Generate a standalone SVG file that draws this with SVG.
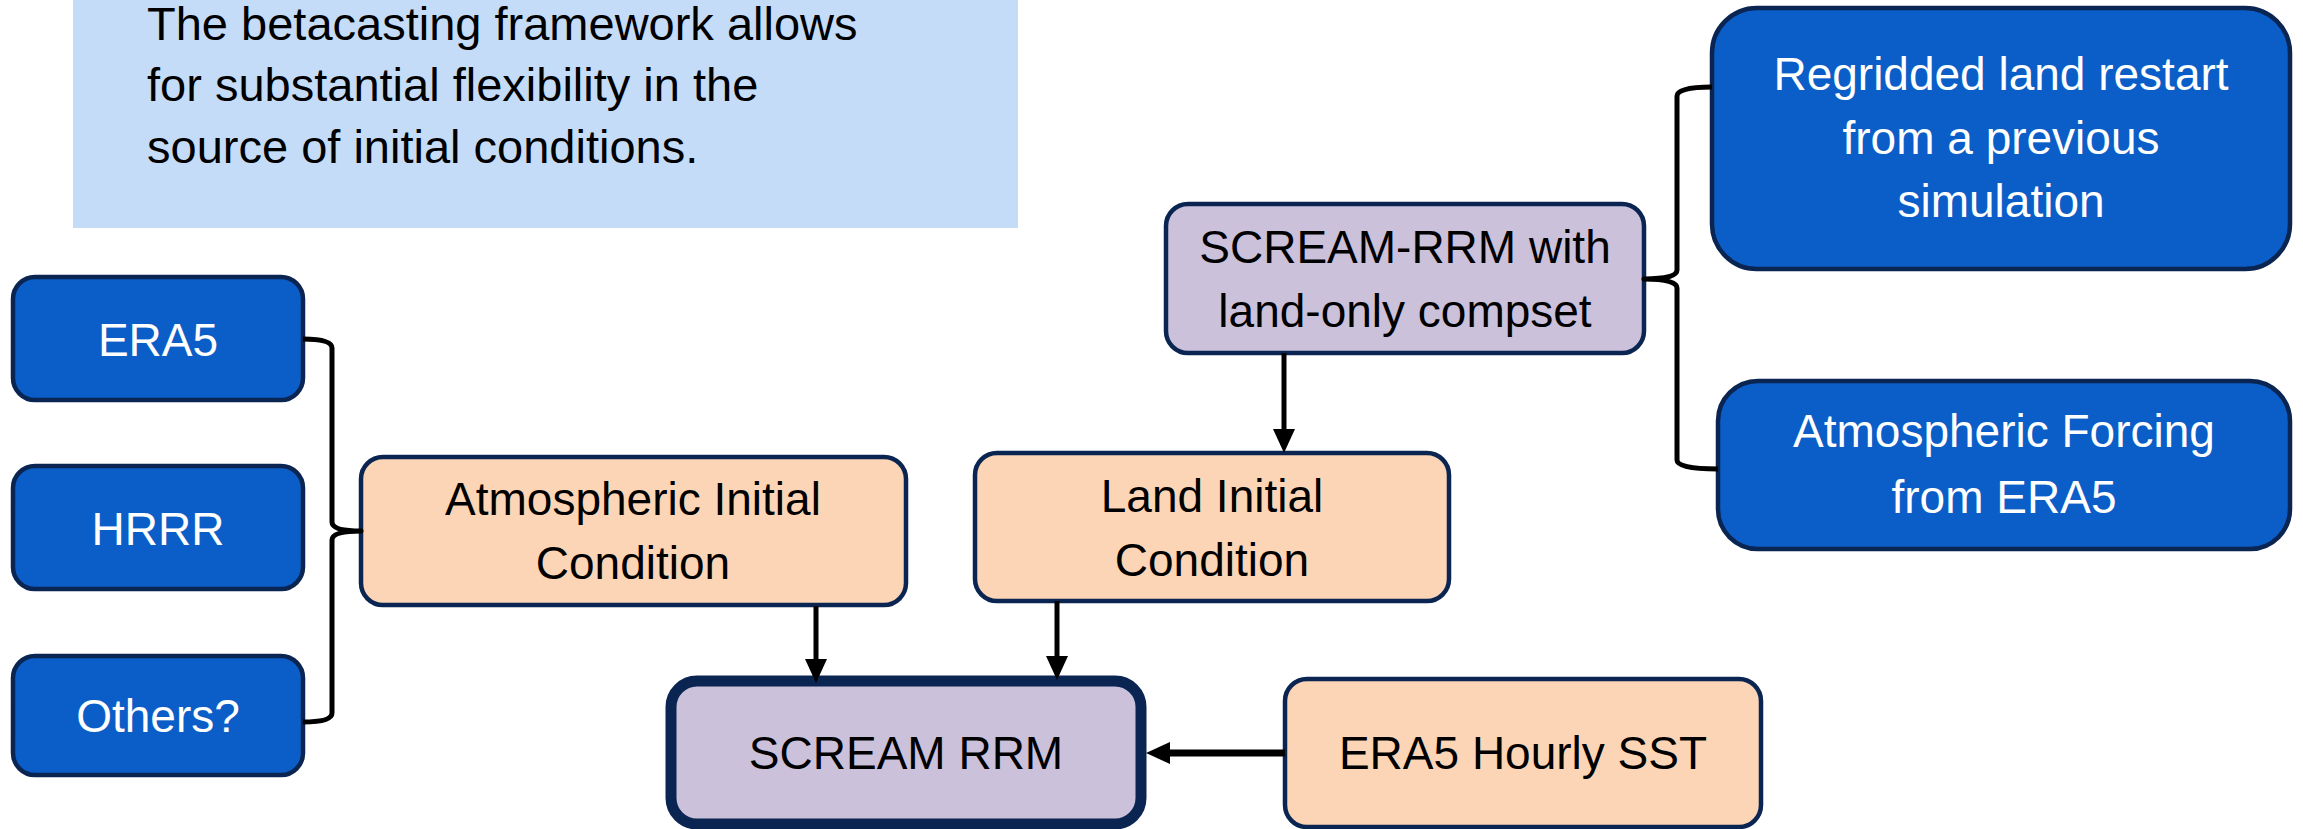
<svg xmlns="http://www.w3.org/2000/svg" width="2303" height="829" viewBox="0 0 2303 829">
<style>
text{font-family:"Liberation Sans",Arial,sans-serif;font-size:46px;text-anchor:middle}
.blue rect{fill:#0B5EC7;stroke:#0A2552;stroke-width:4.5}
.blue text{fill:#FFFFFF}
.peach rect{fill:#FBD5B5;stroke:#0A2552;stroke-width:4.5}
.lav rect{fill:#CBC1DB;stroke:#0A2552;stroke-width:4.5}
.dark text{fill:#000}
.note text{text-anchor:start;font-size:47px;fill:#000}
.brace{fill:none;stroke:#000;stroke-width:5;stroke-linejoin:round}
.arrow{stroke:#000;stroke-width:5;fill:none}
</style>
<defs>
<marker id="ah" markerUnits="userSpaceOnUse" markerWidth="24" markerHeight="22" refX="2" refY="11" orient="auto">
<path d="M0,0 L24,11 L0,22 z" fill="#000"/>
</marker>
</defs>
<rect width="2303" height="829" fill="#FFFFFF"/>
<g id="note" class="note">
<rect x="73" y="0" width="945" height="228" fill="#C5DCF8"/>
<text x="147" y="40">The betacasting framework allows</text>
<text x="147" y="101">for substantial flexibility in the</text>
<text x="147" y="163">source of initial conditions.</text>
</g>
<g id="era5" class="blue"><rect x="13" y="277" width="290" height="123" rx="22"/><text x="158" y="356">ERA5</text></g>
<g id="hrrr" class="blue"><rect x="13" y="466" width="290" height="123" rx="22"/><text x="158" y="545">HRRR</text></g>
<g id="others" class="blue"><rect x="13" y="656" width="290" height="119" rx="22"/><text x="158" y="732">Others?</text></g>
<g id="atm-ic" class="peach dark"><rect x="361" y="457" width="545" height="148" rx="22"/><text x="633" y="515">Atmospheric Initial</text><text x="633" y="579">Condition</text></g>
<g id="land-ic" class="peach dark"><rect x="975" y="453" width="474" height="148" rx="22"/><text x="1212" y="512">Land Initial</text><text x="1212" y="576">Condition</text></g>
<g id="scream-rrm" class="lav dark"><rect x="671" y="681" width="470" height="143" rx="26" style="stroke-width:11"/><text x="906" y="769">SCREAM RRM</text></g>
<g id="sst" class="peach dark"><rect x="1285" y="679" width="476" height="148" rx="22"/><text x="1523" y="769">ERA5 Hourly SST</text></g>
<g id="land-only" class="lav dark"><rect x="1166" y="204" width="478" height="149" rx="22"/><text x="1405" y="263">SCREAM-RRM with</text><text x="1405" y="327">land-only compset</text></g>
<g id="regridded" class="blue"><rect x="1712" y="8" width="578" height="261" rx="45"/><text x="2001" y="90">Regridded land restart</text><text x="2001" y="154">from a previous</text><text x="2001" y="217">simulation</text></g>
<g id="forcing" class="blue"><rect x="1718" y="381" width="572" height="168" rx="40"/><text x="2004" y="447">Atmospheric Forcing</text><text x="2004" y="513">from ERA5</text></g>
<g id="connectors">
<path class="brace" d="M303,339 Q332,339 332,348 L332,522 Q332,531 361,531 Q332,531 332,540 L332,713 Q332,722 303,722"/>
<path class="brace" d="M1712,87 Q1677,87 1677,96 L1677,270 Q1677,279 1644,279 Q1677,279 1677,288 L1677,460 Q1677,469 1718,469"/>
<line class="arrow" x1="816" y1="606" x2="816" y2="661" marker-end="url(#ah)"/>
<line class="arrow" x1="1057" y1="601" x2="1057" y2="658" marker-end="url(#ah)"/>
<line class="arrow" x1="1284" y1="353" x2="1284" y2="431" marker-end="url(#ah)"/>
<line class="arrow" x1="1285" y1="753" x2="1168" y2="753" style="stroke-width:7" marker-end="url(#ah)"/>
</g>
</svg>
